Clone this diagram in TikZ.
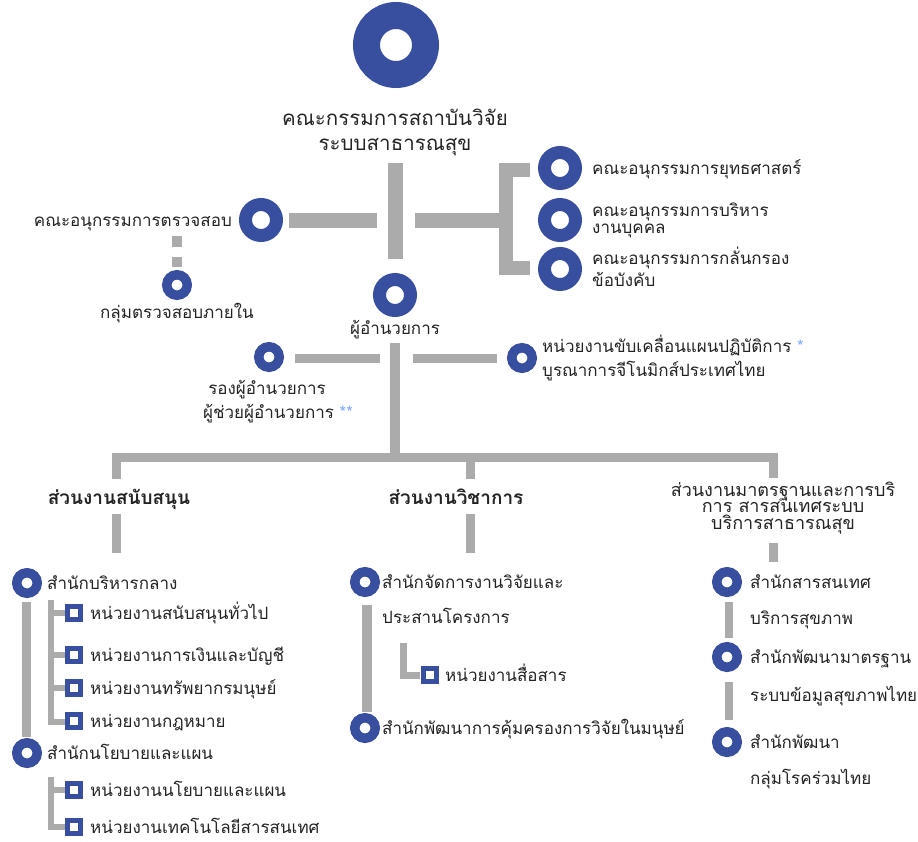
\documentclass[tikz,border=0pt]{standalone}
\usepackage{fontspec}
\setmainfont{Loma}[Script=Thai]
\definecolor{ringblue}{RGB}{56,78,158}
\definecolor{barcol}{RGB}{171,171,171}
\definecolor{txtcol}{RGB}{35,35,35}
\definecolor{astcol}{RGB}{120,170,255}
\tikzset{
  ringL/.style={circle, draw=ringblue, fill=white, line width=27pt, minimum size=59pt, inner sep=0pt},
  ringM/.style={circle, draw=ringblue, fill=white, line width=13pt, minimum size=31pt, inner sep=0pt},
  ringS/.style={circle, draw=ringblue, fill=white, line width=9.5pt, minimum size=20.5pt, inner sep=0pt},
  sqbox/.style={rectangle, draw=ringblue, fill=white, line width=5pt, minimum size=13pt, inner sep=0pt},
  bar/.style={draw=barcol, line cap=butt, miter limit=10},
  txt/.style={text=txtcol, font=\fontsize{17}{20}\selectfont, inner sep=0pt, anchor=base west},
  txtc/.style={txt, anchor=base},
  txte/.style={txt, anchor=base east},
  ttl/.style={txt, anchor=base, font=\fontsize{20.5}{24}\selectfont},
  sect/.style={txt, anchor=base, font=\bfseries\fontsize{19}{22}\selectfont},
  sectr/.style={txt, anchor=center, align=center, font=\fontsize{18}{16.5}\selectfont},
  ast/.style={text=astcol}
}
\begin{document}
\begin{tikzpicture}[x=1pt,y=-1pt]
\useasboundingbox (0,0) rectangle (918,841);
% ---------- bars ----------
\draw[bar, line width=15pt] (395.5,163) -- (395.5,259);
\draw[bar, line width=15pt] (289,220) -- (377,220);
\draw[bar, line width=15pt] (415,220) -- (505,220);
\draw[bar, line width=14pt] (530,170) -- (505.5,170) -- (505.5,268) -- (530,268);
\draw[bar, line width=10pt] (177,236) -- (177,247);
\draw[bar, line width=10pt] (177,257) -- (177,267);
\draw[bar, line width=10pt] (395,343) -- (395,458);
\draw[bar, line width=9pt] (295,358) -- (380,358);
\draw[bar, line width=9pt] (413,358) -- (497,358);
\draw[bar, line width=9pt] (116.5,479) -- (116.5,457.5) -- (773,457.5) -- (773,478);
\draw[bar, line width=9pt] (470,457.5) -- (470,479);
\draw[bar, line width=9pt] (116.5,514) -- (116.5,553);
\draw[bar, line width=9pt] (470,514) -- (470,553);
\draw[bar, line width=9pt] (773,543) -- (773,562);
% left column
\draw[bar, line width=9pt] (26.5,602) -- (26.5,737);
\draw[bar, line width=6pt] (51,600) -- (51,722) -- (66,722);
\draw[bar, line width=6pt] (51,613) -- (66,613);
\draw[bar, line width=6pt] (51,655) -- (66,655);
\draw[bar, line width=6pt] (51,688) -- (66,688);
\draw[bar, line width=6pt] (51,777) -- (51,827) -- (66,827);
\draw[bar, line width=6pt] (51,790) -- (66,790);
% middle column
\draw[bar, line width=10pt] (367,605) -- (367,712);
\draw[bar, line width=7pt] (403.5,643) -- (403.5,675) -- (420,675);
% right column
\draw[bar, line width=8pt] (728.5,602) -- (728.5,638);
\draw[bar, line width=8pt] (728.5,682) -- (728.5,720);
% ---------- rings ----------
\node[ringL] (board) at (396,45) {};
\node[ttl] (board1) at (395,125) {คณะกรรมการสถาบันวิจัย};
\node[ttl] (board2) at (395,150) {ระบบสาธารณสุข};
\node[ringM] (audit) at (261,220) {};
\node[txte] (auditT) at (232,226) {คณะอนุกรรมการตรวจสอบ};
\node[ringS] (iaudit) at (177,285) {};
\node[txtc] (iauditT) at (177,318) {กลุ่มตรวจสอบภายใน};
\node[ringM] (dir) at (395,295) {};
\node[txtc] (dirT) at (395,334) {ผู้อำนวยการ};
\node[ringM] (sc1) at (560,168) {};
\node[ringM] (sc2) at (560,220) {};
\node[ringM] (sc3) at (560,269) {};
\node[txt] (sc1T) at (592,174) {คณะอนุกรรมการยุทธศาสตร์};
\node[txt] (sc2T) at (592,216) {คณะอนุกรรมการบริหาร};
\node[txt] (sc2U) at (592,233) {งานบุคคล};
\node[txt] (sc3T) at (592,264) {คณะอนุกรรมการกลั่นกรอง};
\node[txt] (sc3U) at (592,286) {ข้อบังคับ};
\node[ringS] (dep) at (269,357) {};
\node[txtc] (depT) at (267,394) {รองผู้อำนวยการ};
\node[txtc] (depU) at (278,418) {ผู้ช่วยผู้อำนวยการ \textcolor{astcol}{**}};
\node[ringS] (gen) at (522,358) {};
\node[txt] (genT) at (542,352) {หน่วยงานขับเคลื่อนแผนปฏิบัติการ \textcolor{astcol}{*}};
\node[txt] (genU) at (542,376) {บูรณาการจีโนมิกส์ประเทศไทย};
% ---------- section labels ----------
\node[sect] (secA) at (119,504) {ส่วนงานสนับสนุน};
\node[sect] (secB) at (456,504) {ส่วนงานวิชาการ};
\node[sectr] (secC) at (783,508) {ส่วนงานมาตรฐานและการบริ\\การ สารสนเทศระบบ\\บริการสาธารณสุข};
% ---------- left column ----------
\node[ringS] (a1) at (27,583) {};
\node[txt] (a1T) at (47,589) {สำนักบริหารกลาง};
\node[sqbox] (a11) at (74,613) {};
\node[txt] (a11T) at (90,619) {หน่วยงานสนับสนุนทั่วไป};
\node[sqbox] (a12) at (74,655) {};
\node[txt] (a12T) at (90,661) {หน่วยงานการเงินและบัญชี};
\node[sqbox] (a13) at (74,688) {};
\node[txt] (a13T) at (90,694) {หน่วยงานทรัพยากรมนุษย์};
\node[sqbox] (a14) at (74,721) {};
\node[txt] (a14T) at (90,727) {หน่วยงานกฎหมาย};
\node[ringS] (a2) at (27,753) {};
\node[txt] (a2T) at (47,759) {สำนักนโยบายและแผน};
\node[sqbox] (a21) at (74,790) {};
\node[txt] (a21T) at (90,796) {หน่วยงานนโยบายและแผน};
\node[sqbox] (a22) at (74,827) {};
\node[txt] (a22T) at (90,833) {หน่วยงานเทคโนโลยีสารสนเทศ};
% ---------- middle column ----------
\node[ringS] (b1) at (365,582) {};
\node[txt] (b1T) at (382,588) {สำนักจัดการงานวิจัยและ};
\node[txt] (b1U) at (382,623) {ประสานโครงการ};
\node[sqbox] (b11) at (430,675) {};
\node[txt] (b11T) at (445,681) {หน่วยงานสื่อสาร};
\node[ringS] (b2) at (365,728) {};
\node[txt] (b2T) at (382,734) {สำนักพัฒนาการคุ้มครองการวิจัยในมนุษย์};
% ---------- right column ----------
\node[ringS] (c1) at (727,582) {};
\node[txt] (c1T) at (750,588) {สำนักสารสนเทศ};
\node[txt] (c1U) at (750,624) {บริการสุขภาพ};
\node[ringS] (c2) at (727,657) {};
\node[txt] (c2T) at (750,663) {สำนักพัฒนามาตรฐาน};
\node[txt] (c2U) at (750,701) {ระบบข้อมูลสุขภาพไทย};
\node[ringS] (c3) at (727,742) {};
\node[txt] (c3T) at (750,748) {สำนักพัฒนา};
\node[txt] (c3U) at (750,784) {กลุ่มโรคร่วมไทย};
\end{tikzpicture}
\end{document}
